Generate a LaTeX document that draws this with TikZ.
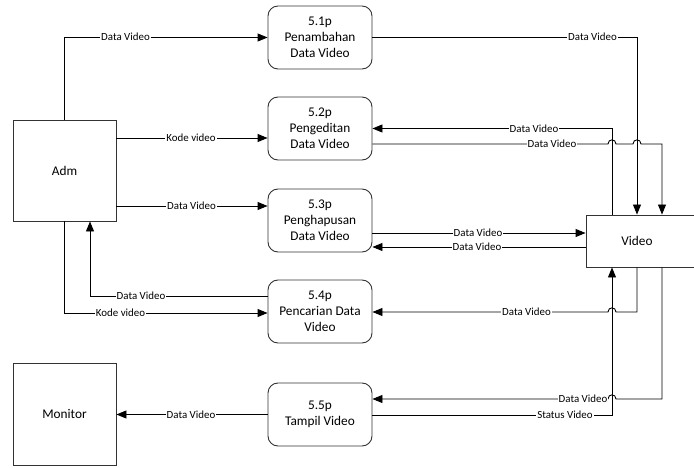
\documentclass[tikz,border=0pt]{standalone}
\usepackage{fontspec}
\setmainfont{Carlito}
\usetikzlibrary{arrows.meta}
\begin{document}
\begin{tikzpicture}[x=1pt,y=-1pt,
  every path/.style={line width=0.9pt},
  entity/.style={draw=black!80, rectangle, inner sep=0pt, align=center,
    font=\fontsize{13.3}{16}\selectfont},
  proc/.style={draw=black!80, rectangle, rounded corners=10pt, inner sep=0pt,
    minimum width=104pt, minimum height=63pt, align=center,
    font=\fontsize{13.3}{16}\selectfont},
  lbl/.style={fill=white, inner sep=1pt, font=\fontsize{10.9}{12}\selectfont},
  flow/.style={draw=black, -{Triangle[length=10pt,width=8pt]}},
  line/.style={draw=black}]
\useasboundingbox (0,0) rectangle (694,468);

% external entities
\node[entity, minimum width=103pt, minimum height=101pt] (adm) at (64.5,170.5) {Adm};
\node[entity, minimum width=103pt, minimum height=102pt] (mon) at (64.5,414) {Monitor};
\node[entity, minimum width=114pt, minimum height=52pt,
  label={[font=\fontsize{13.3}{16}\selectfont, xshift=-6pt]center:Video}] (vid) at (643,241) {};

% processes
\node[proc] (p1) at (320,37.5)  {5.1p\\Penambahan\\Data Video};
\node[proc] (p2) at (320,128.5) {5.2p\\Pengeditan\\Data Video};
\node[proc] (p3) at (320,220.5) {5.3p\\Penghapusan\\Data Video};
\node[proc] (p4) at (320,311.5) {5.4p\\Pencarian Data\\Video};
\node[proc] (p5) at (320,414.5) {5.5p\\Tampil Video};

% vertical lanes beside the Video store
\coordinate (l1) at (612,0);
\coordinate (l2) at (637,0);
\coordinate (l3) at (662,0);

% 5.1p
\draw[flow] (adm.north) |- (p1.west);
\draw[flow] (p1.east) -| (vid.north -| l2);

% 5.2p
\draw[flow] (adm.east |- 0,138) -- (p2.west |- 0,138);
\draw[flow] (vid.north -| l1) |- (p2.east);
\draw[flow] (p2.east |- 0,144) -- (608,144)
  .. controls (608,138.5) and (616,138.5) .. (616,144) -- (633,144)
  .. controls (633,138.5) and (641,138.5) .. (641,144) -| (vid.north -| l3);

% 5.3p
\draw[flow] (adm.east |- 0,206) -- (p3.west |- 0,206);
\draw[flow] (p3.east |- 0,233) -- (vid.west |- 0,233);
\draw[flow] (vid.west |- 0,247) -- (p3.east |- 0,247);

% 5.4p
\draw[flow] (p4.west |- 0,296) -| (adm.south -| 90,0);
\draw[flow] (adm.south) |- (p4.west |- 0,313);
\draw[flow] (vid.south -| l2) |- (616,312)
  .. controls (616,306.5) and (608,306.5) .. (608,312) -- (p4.east |- 0,312);

% 5.5p
\draw[flow] (vid.south -| l3) |- (616,399)
  .. controls (616,393.5) and (608,393.5) .. (608,399) -- (p5.east |- 0,399);
\draw[flow] (p5.east |- 0,415) -| (vid.south -| l1);
\draw[flow] (p5.west) -- (mon.east |- p5.west);

% flow labels
\node[lbl] (t1)  at (125.5,37)  {Data Video};
\node[lbl] (t2)  at (592.5,37)  {Data Video};
\node[lbl] (t3)  at (191,138)   {Kode video};
\node[lbl] (t4)  at (534,128.5) {Data Video};
\node[lbl] (t5)  at (552,144)   {Data Video};
\node[lbl] (t6)  at (191.5,206) {Data Video};
\node[lbl] (t7)  at (478,233)   {Data Video};
\node[lbl] (t8)  at (477,247)   {Data Video};
\node[lbl] (t9)  at (141,296)   {Data Video};
\node[lbl] (t10) at (120.5,313) {Kode video};
\node[lbl] (t11) at (526.5,312) {Data Video};
\node[lbl] (t12) at (583,399)   {Data Video};
\node[lbl] (t13) at (565,415)   {Status Video};
\node[lbl] (t14) at (191,414.5) {Data Video};
\end{tikzpicture}
\end{document}
